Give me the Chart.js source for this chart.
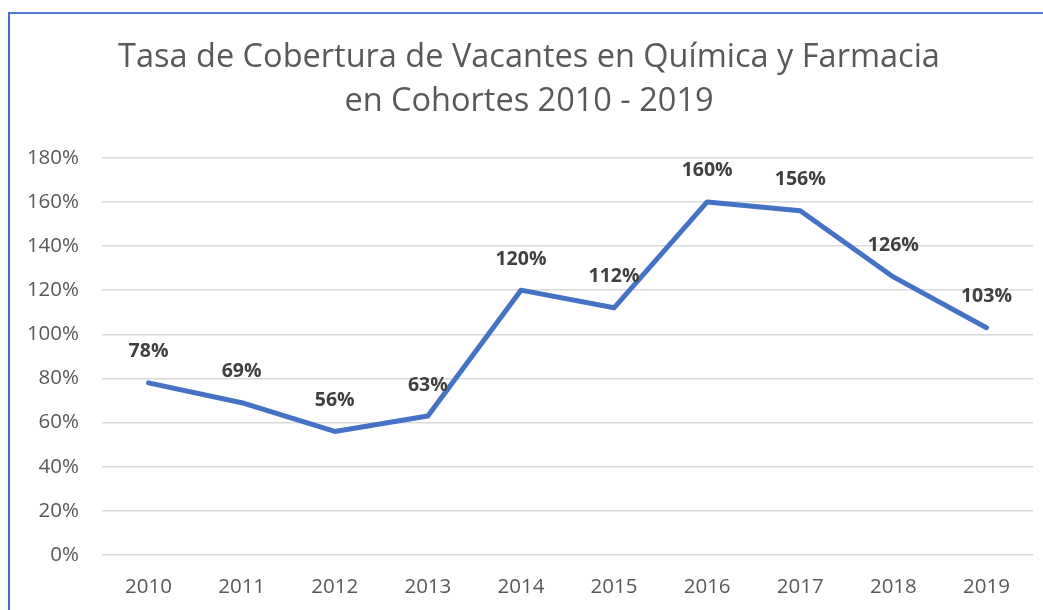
<!DOCTYPE html>
<html>
<head>
<meta charset="utf-8">
<script src="https://cdn.jsdelivr.net/npm/chart.js@4/dist/chart.umd.min.js"></script>
<style>
  html, body { margin: 0; padding: 0; background: #ffffff; }
  #frame { position: absolute; left: 8px; top: 12px; width: 1035px; height: 598px;
           border-left: 2px solid #4472C4; border-top: 2px solid #4F7BCB; box-sizing: border-box; }
  #wrap { position: absolute; left: 2px; top: 2px; width: 1033px; height: 596px; }
</style>
</head>
<body>
<div id="frame"><div id="wrap"><canvas id="c"></canvas></div></div>
<script>
const categories = ['2010','2011','2012','2013','2014','2015','2016','2017','2018','2019'];
const coverage = [78, 69, 56, 63, 120, 112, 160, 156, 126, 103];
const titleLines = ['Tasa de Cobertura de Vacantes en Química y Farmacia', 'en Cohortes 2010 - 2019'];
const yMin = 0, yMax = 180, yStep = 20;

const FONT = "'Open Sans', 'Noto Sans', sans-serif";

const labelPlugin = {
  id: 'pointLabels',
  afterDatasetsDraw(chart) {
    const ctx = chart.ctx;
    const meta = chart.getDatasetMeta(0);
    ctx.save();
    ctx.font = 'bold 19.5px ' + FONT;
    ctx.fillStyle = '#404040';
    ctx.textAlign = 'center';
    ctx.textBaseline = 'middle';
    meta.data.forEach((pt, i) => {
      ctx.fillText(coverage[i] + '%', pt.x, pt.y - 31);
    });
    ctx.restore();
  }
};

new Chart(document.getElementById('c'), {
  type: 'line',
  data: {
    labels: categories,
    datasets: [{
      data: coverage,
      borderColor: '#4472C4',
      borderWidth: 5,
      pointRadius: 0,
      tension: 0,
      fill: false,
      borderJoinStyle: 'round',
      borderCapStyle: 'round'
    }]
  },
  options: {
    responsive: true,
    maintainAspectRatio: false,
    animation: false,
    layout: { padding: { left: 13, right: 12, top: 0, bottom: 0 } },
    plugins: {
      legend: { display: false },
      tooltip: { enabled: false },
      title: {
        display: true,
        text: titleLines,
        color: '#595959',
        font: { family: FONT, size: 32.5, weight: 'normal', lineHeight: 1.35 },
        padding: { top: 20, bottom: 34 }
      }
    },
    scales: {
      x: {
        offset: true,
        grid: { display: false, drawTicks: false },
        border: { display: false },
        ticks: { color: '#595959', font: { family: FONT, size: 20.5 }, padding: 20, maxRotation: 0 },
        afterFit(s) { s.height = 57; }
      },
      y: {
        min: yMin, max: yMax,
        grid: { color: '#D9D9D9', lineWidth: 1.5, drawTicks: false },
        border: { display: false },
        ticks: { stepSize: yStep, color: '#595959', font: { family: FONT, size: 20.5 }, padding: 23,
                 callback: v => v + '%' },
        afterFit(s) { s.width = 77; }
      }
    }
  },
  plugins: [labelPlugin]
});
</script>
</body>
</html>
